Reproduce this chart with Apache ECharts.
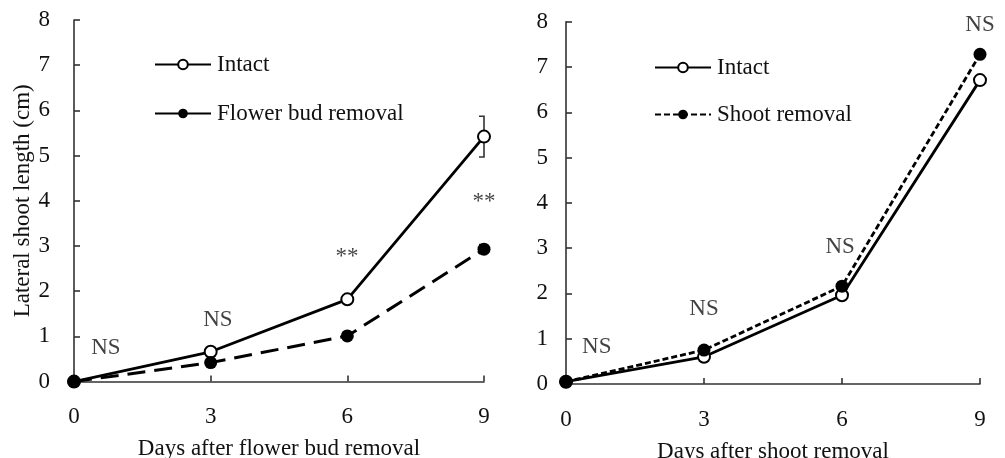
<!DOCTYPE html>
<html>
<head>
<meta charset="utf-8">
<script src="https://cdn.jsdelivr.net/npm/echarts@6/dist/echarts.min.js"></script>
<style>
  html, body { margin: 0; padding: 0; background: #fff; }
  #chart { width: 1005px; height: 458px; }
</style>
</head>
<body>
<div id="chart"></div>
<script>
// Days of measurement (shared by both panels)
const days = [0, 3, 6, 9];
const yTicks = [0, 1, 2, 3, 4, 5, 6, 7, 8];

// Panel A: flower bud removal
const intactA = [0, 0.66, 1.82, 5.42];
const budRemoval = [0, 0.42, 1.01, 2.93];
const intactAErr = [0, 0, 0, 0.45];
const budRemovalErr = [0, 0, 0, 0.1];
const marksA = ['NS', 'NS', '**', '**'];
const marksAAt = [[0.7, 0.74], [3.16, 1.36], [5.99, 2.75], [9.0, 3.98]];

// Panel B: shoot removal
const intactB = [0.05, 0.6, 1.96, 6.71];
const shootRemoval = [0.05, 0.75, 2.16, 7.28];
const marksB = ['NS', 'NS', 'NS', 'NS'];
const marksBAt = [[0.67, 0.82], [3.0, 1.66], [5.96, 3.02], [9.0, 7.92]];

const FONT = 'Liberation Serif';
const SIZE = 23;
const INK = '#111';

const pairs = (xs, ys) => xs.map((x, i) => [x, ys[i]]);

function xAxisFor(gridIndex, title) {
  return {
    type: 'value', gridIndex, min: 0, max: 9, interval: 3,
    name: title, nameLocation: 'middle', nameGap: 56,
    nameTextStyle: { fontFamily: FONT, fontSize: SIZE, color: INK },
    axisLine: { show: true, lineStyle: { color: '#333', width: 1.6 } },
    axisTick: { show: true, inside: true, length: 6, lineStyle: { color: '#333', width: 1.6 } },
    axisLabel: { fontFamily: FONT, fontSize: SIZE, color: INK, margin: 24 },
    splitLine: { show: false }
  };
}

function yAxisFor(gridIndex, title, margin) {
  return {
    type: 'value', gridIndex, min: yTicks[0], max: yTicks[yTicks.length - 1], interval: 1,
    name: title, nameLocation: 'middle', nameGap: 38,
    nameTextStyle: { fontFamily: FONT, fontSize: SIZE, color: INK },
    axisLine: { show: true, lineStyle: { color: '#333', width: 1.6 } },
    axisTick: { show: true, inside: true, length: 6, lineStyle: { color: '#333', width: 1.6 } },
    axisLabel: { fontFamily: FONT, fontSize: SIZE, color: INK, margin },
    splitLine: { show: false }
  };
}

const openMarker = { symbol: 'emptyCircle', symbolSize: 12, itemStyle: { color: '#000', borderColor: '#000', borderWidth: 1.7 } };
const filledMarker = { symbol: 'circle', symbolSize: 13, itemStyle: { color: '#000' } };

function lineSeries(name, xi, ys, marker, lineType, width) {
  return Object.assign({
    type: 'line', name, xAxisIndex: xi, yAxisIndex: xi,
    data: pairs(days, ys), clip: false, z: 3,
    lineStyle: { color: '#000', width, type: lineType },
    emphasis: { disabled: true }
  }, marker);
}

// Error bars drawn with a "]"-shaped cap on the left side
function errorSeries(xi, ys, errs) {
  const data = days.map((d, i) => [d, ys[i], errs[i]]).filter(r => r[2] > 0);
  return {
    type: 'custom', xAxisIndex: xi, yAxisIndex: xi, data, z: 2, silent: true, clip: false,
    renderItem(params, api) {
      const x = api.value(0), y = api.value(1), e = api.value(2);
      const top = api.coord([x, y + e]);
      const bot = api.coord([x, y - e]);
      const cap = 5;
      return {
        type: 'polyline',
        shape: { points: [[top[0] - cap, top[1]], [top[0], top[1]], [bot[0], bot[1]], [bot[0] - cap, bot[1]]] },
        style: { stroke: '#333', lineWidth: 1.6, fill: null }
      };
    }
  };
}

function markSeries(xi, at, texts) {
  return {
    type: 'scatter', xAxisIndex: xi, yAxisIndex: xi, silent: true, z: 5, clip: false,
    symbolSize: 0,
    data: at.map((p, i) => [p[0], p[1], texts[i]]),
    label: {
      show: true, position: 'inside', formatter: p => p.value[2],
      fontFamily: FONT, fontSize: SIZE, color: INK
    }
  };
}

const legendText = { fontFamily: FONT, fontSize: SIZE, color: INK, padding: [0, 0, 0, 1] };

const chart = echarts.init(document.getElementById('chart'), null, { renderer: 'canvas' });

chart.setOption({
  animation: false,
  backgroundColor: '#fff',
  grid: [
    { left: 74, top: 20, width: 410, height: 361.6, outerBoundsMode: 'none' },
    { left: 566, top: 21.7, width: 414, height: 362.3, outerBoundsMode: 'none' }
  ],
  xAxis: [xAxisFor(0, 'Days after flower bud removal'), xAxisFor(1, 'Days after shoot removal')],
  yAxis: [yAxisFor(0, 'Lateral shoot length (cm)', 24), yAxisFor(1, '', 18)],
  legend: [
    {
      orient: 'vertical', left: 149, top: 48, itemWidth: 56, itemHeight: 12, itemGap: 26,
      data: ['Intact', { name: 'Flower bud removal', lineStyle: { type: 'solid' } }],
      textStyle: legendText, selectedMode: false
    },
    {
      orient: 'vertical', left: 649, top: 51, itemWidth: 56, itemHeight: 12, itemGap: 24,
      data: ['Intact', 'Shoot removal'],
      textStyle: legendText, selectedMode: false
    }
  ],
  series: [
    errorSeries(0, intactA, intactAErr),
    errorSeries(0, budRemoval, budRemovalErr),
    lineSeries('Intact', 0, intactA, openMarker, 'solid', 2.8),
    lineSeries('Flower bud removal', 0, budRemoval, filledMarker, [18, 9], 3),
    markSeries(0, marksAAt, marksA),
    lineSeries('Intact', 1, intactB, openMarker, 'solid', 2.8),
    lineSeries('Shoot removal', 1, shootRemoval, filledMarker, [6, 3], 2.8),
    markSeries(1, marksBAt, marksB)
  ]
});
</script>
</body>
</html>
